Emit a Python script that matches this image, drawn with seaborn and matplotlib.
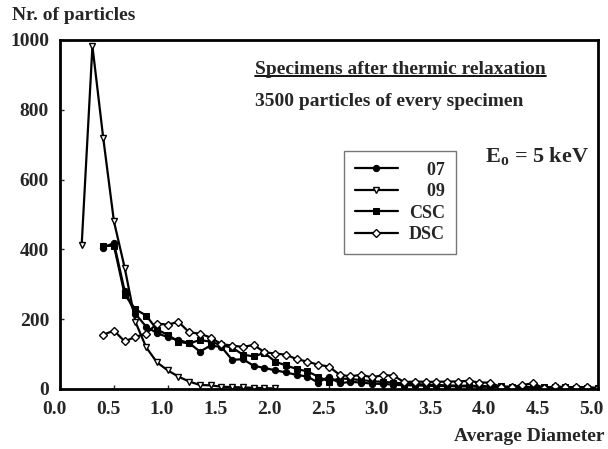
import numpy as np
import pandas as pd
import seaborn as sns
import matplotlib.pyplot as plt
from matplotlib.lines import Line2D
from matplotlib.transforms import ScaledTranslation

sns.set_style("ticks")
plt.rcParams["font.family"] = ["Liberation Serif", "DejaVu Serif"]
plt.rcParams["font.weight"] = "bold"
plt.rcParams["mathtext.fontset"] = "custom"
plt.rcParams["mathtext.rm"] = "Liberation Serif:bold"

# diameters, step 0.1
d_09 = np.round(np.arange(0.2, 2.01, 0.1), 1)
d_all = np.round(np.arange(0.4, 5.01, 0.1), 1)

n_09 = [413, 982, 720, 480, 347, 192, 119, 76, 53, 35, 21, 11, 10, 6, 5, 4, 3, 2, 1]

n_07 = [405, 418, 280, 215, 178, 160, 148, 140, 131, 107, 124, 120, 83, 85, 66, 60,
        53, 47, 40, 35, 18, 35, 16, 20, 18, 15, 14, 12, 10, 10, 9, 8, 8, 7, 7, 6,
        6, 5, 5, 4, 4, 3, 3, 3, 2, 2, 2]

n_csc = [410, 410, 270, 228, 210, 170, 155, 135, 130, 140, 135, 125, 118, 98, 93, 103,
         78, 67, 57, 50, 35, 21, 30, 28, 25, 22, 20, 18, 15, 14, 12, 11, 10, 9, 9, 8,
         7, 7, 6, 6, 5, 5, 4, 4, 3, 3, 3]

n_dsc = [155, 167, 136, 149, 158, 187, 184, 192, 162, 158, 147, 128, 124, 120, 126, 105,
         101, 98, 85, 78, 69, 64, 40, 36, 40, 33, 39, 38, 19, 21, 20, 20, 21, 21, 23, 18,
         18, 5, 5, 11, 16, 2, 7, 5, 5, 5, 2]

fig = plt.figure(figsize=(6.08, 4.49), dpi=100)
ax = fig.add_axes([0.099, 0.134, 0.884, 0.777])

sns.lineplot(x=d_all, y=n_07, ax=ax, color="black", lw=1.6, marker="o", ms=4.5,
             mfc="black", mec="black", label="\u200307")
sns.lineplot(x=d_09, y=n_09, ax=ax, color="black", lw=1.6, marker="v", ms=5,
             mfc="white", mec="black", mew=1, label="\u200309")
sns.lineplot(x=d_all, y=n_csc, ax=ax, color="black", lw=1.6, marker="s", ms=4.5,
             mfc="black", mec="black", label="CSC")
sns.lineplot(x=d_all, y=n_dsc, ax=ax, color="black", lw=1.6, marker="D", ms=4.5,
             mfc="white", mec="black", mew=1, label="DSC")

ax.set_xlim(0, 5)
ax.set_ylim(0, 1000)
ax.set_xticks(np.arange(0, 5.01, 0.5))
ax.set_xticklabels(["%.1f" % v for v in np.arange(0, 5.01, 0.5)])
ax.set_yticks(range(0, 1001, 200))
ax.tick_params(direction="in", length=3, width=1, labelsize=14)
ax.tick_params(axis="x", pad=9)
ax.tick_params(axis="y", pad=8)
# tick labels sit a little left of their ticks in the original
shift = ScaledTranslation(-6 / 100, 0, fig.dpi_scale_trans)
for lab in ax.get_xticklabels():
    lab.set_transform(lab.get_transform() + shift)
for s in ax.spines.values():
    s.set_linewidth(2)
    s.set_color("black")
ax.set_xlabel("")
ax.set_ylabel("")

leg = ax.legend(loc="upper left", bbox_to_anchor=(0.528, 0.682), frameon=True,
                fancybox=False, edgecolor="#555555", fontsize=13, handlelength=2.4,
                borderpad=0.6, labelspacing=0.25, handletextpad=0.6, borderaxespad=0)
leg.get_frame().set_linewidth(1)

fig.text(0.02, 0.965, "Nr. of particles", fontsize=14, ha="left", va="center")
fig.text(0.995, 0.027, "Average Diameter", fontsize=14, ha="right", va="center")

t1 = fig.text(0.419, 0.846, "Specimens after thermic relaxation", fontsize=14,
              ha="left", va="center")
fig.text(0.419, 0.773, "3500 particles of every specimen", fontsize=14,
         ha="left", va="center")
fig.text(0.798, 0.65, r"E$_\mathregular{o}$ = 5 keV", fontsize=16, ha="left", va="center")

fig.canvas.draw()
bb = t1.get_window_extent().transformed(fig.transFigure.inverted())
fig.add_artist(Line2D([bb.x0, bb.x1], [bb.y0 + 0.004, bb.y0 + 0.004],
                      transform=fig.transFigure, color="black", lw=1.3))

fig.savefig("out.png", dpi=100)
